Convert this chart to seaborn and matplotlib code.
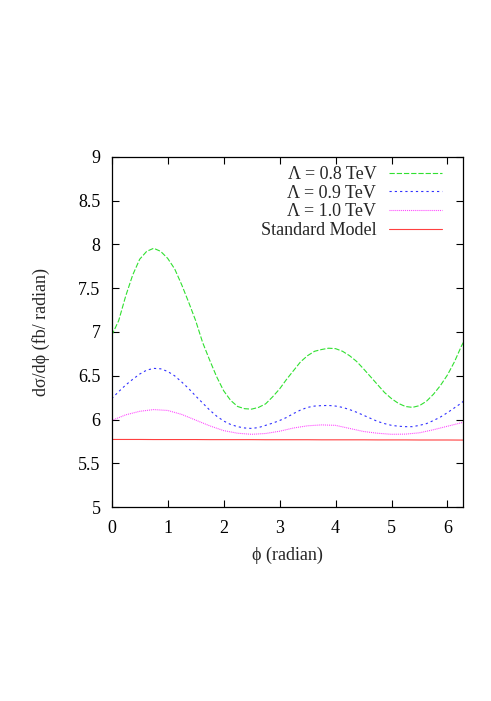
import numpy as np
import pandas as pd
import matplotlib
matplotlib.use('Agg')
import matplotlib.pyplot as plt
import seaborn as sns

# values
phi_fine = [0.000, 0.125, 0.250, 0.375, 0.500, 0.625, 0.750, 0.875, 1.000, 1.125, 1.250, 1.375,
            1.500, 1.625, 1.750, 1.875, 2.000, 2.125, 2.250, 2.375, 2.500, 2.625, 2.750, 2.875,
            3.000, 3.125, 3.250, 3.375, 3.500, 3.625, 3.750, 3.875, 4.000, 4.125, 4.250, 4.375,
            4.500, 4.625, 4.750, 4.875, 5.000, 5.125, 5.250, 5.375, 5.500, 5.625, 5.750, 5.875,
            6.000, 6.125, 6.250, 6.283]
lam08 = [6.96, 7.13, 7.41, 7.65, 7.83, 7.92, 7.955, 7.92, 7.84, 7.72, 7.54, 7.34,
         7.13, 6.88, 6.68, 6.49, 6.33, 6.22, 6.15, 6.125, 6.12, 6.14, 6.18, 6.26,
         6.35, 6.46, 6.56, 6.66, 6.73, 6.78, 6.80, 6.815, 6.81, 6.78, 6.73, 6.665,
         6.58, 6.49, 6.40, 6.31, 6.24, 6.185, 6.15, 6.14, 6.16, 6.21, 6.29, 6.39,
         6.51, 6.66, 6.84, 6.88]
lam09 = [6.24, 6.32, 6.395, 6.46, 6.52, 6.565, 6.585, 6.58, 6.55, 6.50, 6.43, 6.355,
         6.27, 6.19, 6.11, 6.04, 5.985, 5.945, 5.92, 5.905, 5.90, 5.91, 5.935, 5.96,
         5.99, 6.025, 6.07, 6.11, 6.14, 6.155, 6.16, 6.162, 6.155, 6.14, 6.115, 6.085,
         6.05, 6.015, 5.98, 5.955, 5.935, 5.925, 5.92, 5.92, 5.935, 5.955, 5.99, 6.03,
         6.08, 6.135, 6.19, 6.21]

phi = [0.00, 0.25, 0.50, 0.75, 1.00, 1.25, 1.50, 1.75, 2.00, 2.25, 2.50, 2.75, 3.00,
       3.25, 3.50, 3.75, 4.00, 4.25, 4.50, 4.75, 5.00, 5.25, 5.50, 5.75, 6.00, 6.283]
lam10 = [5.99, 6.055, 6.095, 6.115, 6.105, 6.06, 5.995, 5.93, 5.875, 5.845, 5.833, 5.842, 5.868,
         5.905, 5.93, 5.94, 5.935, 5.90, 5.865, 5.845, 5.833, 5.835, 5.85, 5.885, 5.925, 5.97]
sm = [5.774, 5.774, 5.774, 5.773, 5.773, 5.773, 5.773, 5.772, 5.772, 5.772, 5.772, 5.771, 5.771,
      5.771, 5.771, 5.770, 5.770, 5.770, 5.770, 5.769, 5.769, 5.769, 5.768, 5.768, 5.768, 5.767]

labels = ['Λ = 0.8 TeV', 'Λ = 0.9 TeV', 'Λ = 1.0 TeV', 'Standard Model']
xticks = [0, 1, 2, 3, 4, 5, 6]
yticks = [5, 5.5, 6, 6.5, 7, 7.5, 8, 8.5, 9]
ytick_labels = ['5', '5.5', '6', '6.5', '7', '7.5', '8', '8.5', '9']

df = pd.concat([
    pd.DataFrame({'phi': phi_fine, 'val': lam08, 'model': labels[0]}),
    pd.DataFrame({'phi': phi_fine, 'val': lam09, 'model': labels[1]}),
    pd.DataFrame({'phi': phi, 'val': lam10, 'model': labels[2]}),
    pd.DataFrame({'phi': phi, 'val': sm, 'model': labels[3]}),
])

sns.set_style('ticks')
plt.rcParams['font.family'] = ['Liberation Serif', 'DejaVu Serif']
plt.rcParams['lines.scale_dashes'] = False

palette = {labels[0]: '#30e030', labels[1]: '#3030ff', labels[2]: '#ff40ff', labels[3]: '#ff4040'}
dashes = {labels[0]: (3.8, 1.4), labels[1]: (1.6, 2.2), labels[2]: (0.7, 0.7), labels[3]: ''}

fs = 13

fig = plt.figure(figsize=(4.91, 7.01), dpi=100)
ax = fig.add_axes([0.2275, 0.2763, 0.7161, 0.5002])

sns.lineplot(data=df, x='phi', y='val', hue='model', style='model', hue_order=labels,
             style_order=labels, palette=palette, dashes=dashes, linewidth=0.8,
             legend=False, ax=ax, sort=True)

ax.set_xlim(0, 2 * np.pi)
ax.set_ylim(5, 9)
ax.set_xticks(xticks)
ax.set_xticklabels([str(t) for t in xticks])
ax.set_yticks(yticks)
ax.set_yticklabels(ytick_labels)
ax.tick_params(direction='in', top=True, right=True, length=5, width=0.8,
               labelsize=fs, colors='black')
ax.tick_params(axis='x', pad=9)
ax.tick_params(axis='y', pad=8)
for s in ax.spines.values():
    s.set_visible(True)
    s.set_linewidth(0.9)
    s.set_color('black')

ax.set_xlabel('ϕ (radian)', fontsize=fs, labelpad=7)
ax.set_ylabel('dσ/dϕ (fb/ radian)', fontsize=fs, labelpad=20)

handles = ax.get_lines()[:4]
ax.legend(handles=handles, labels=labels, loc='upper right', bbox_to_anchor=(0.959, 0.994),
          borderaxespad=0, frameon=False, markerfirst=False, fontsize=fs,
          handlelength=2.9, handletextpad=0.72, labelspacing=0.09)

fig.savefig('out.png', dpi=100, facecolor='white')
